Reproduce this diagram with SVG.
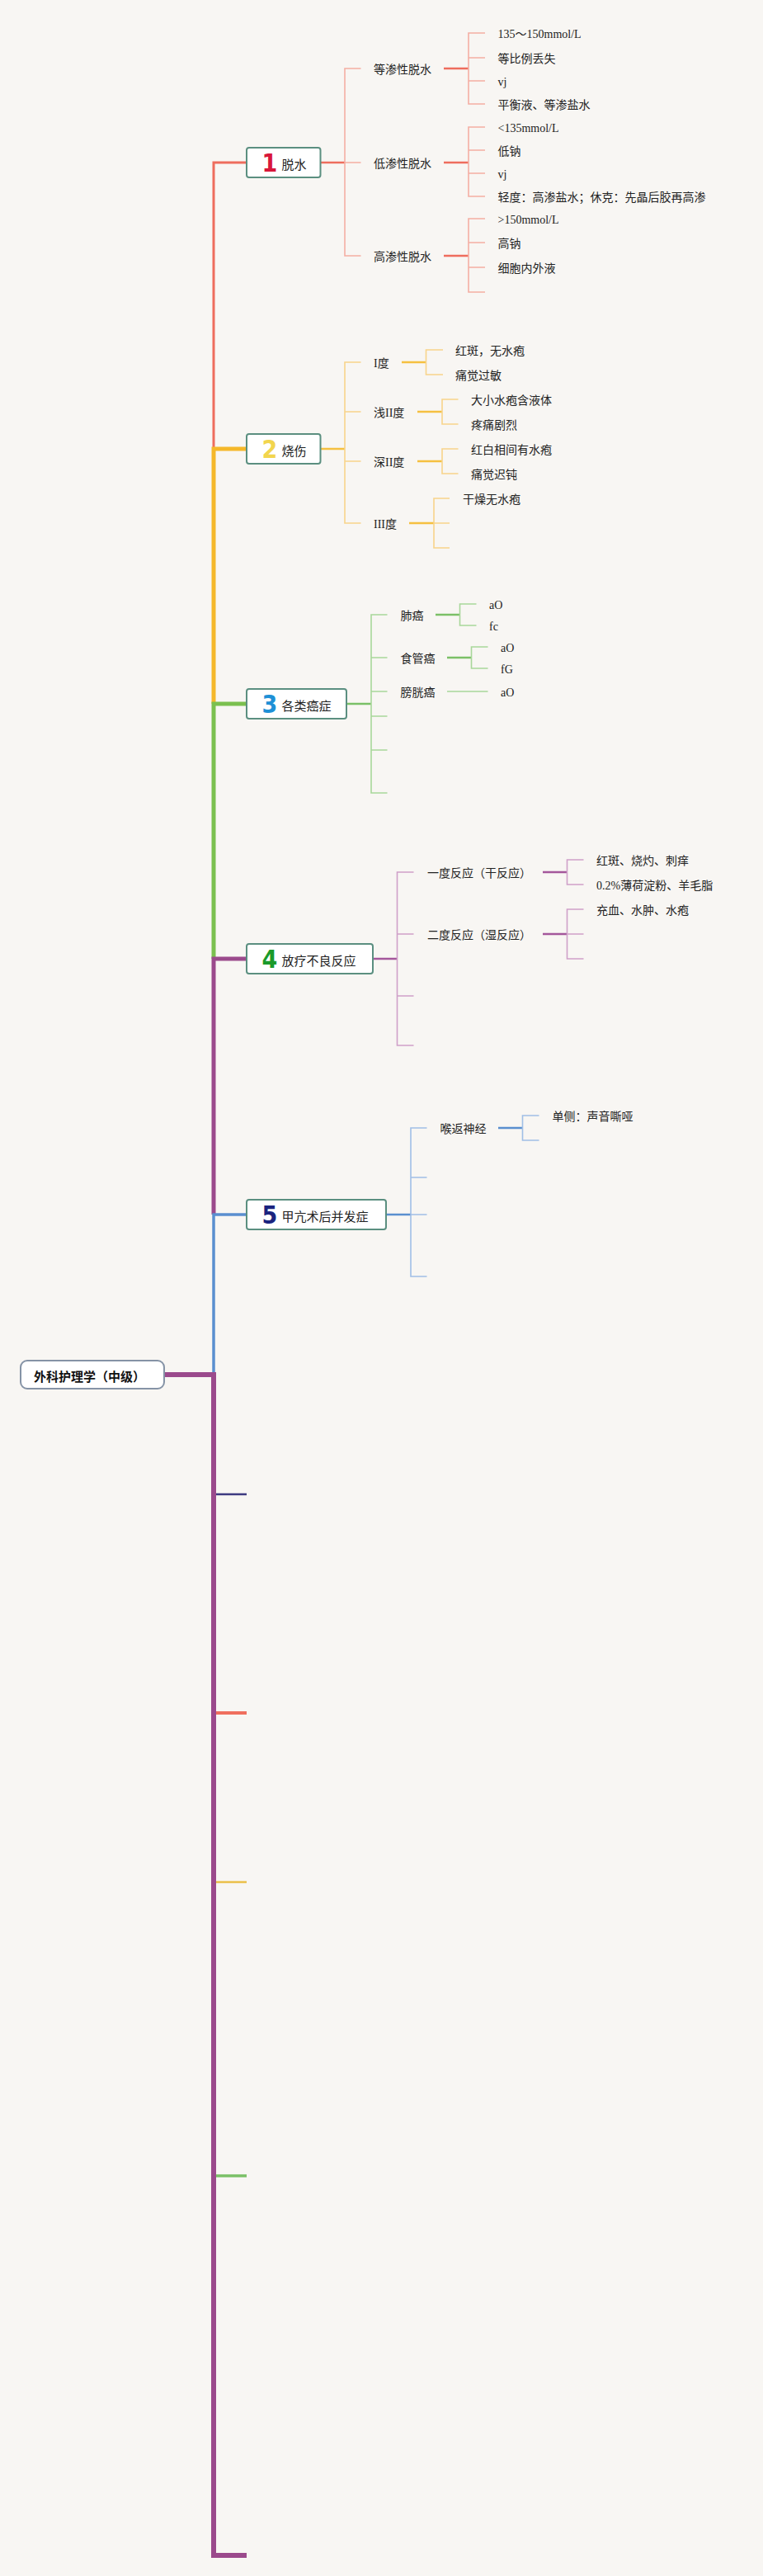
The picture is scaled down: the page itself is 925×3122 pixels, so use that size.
<svg xmlns="http://www.w3.org/2000/svg" width="925" height="3122" viewBox="0 0 925 3122">
<style>
.t{font-family:"Liberation Serif","Noto Sans CJK SC",serif;font-size:14px;fill:#222;dominant-baseline:central}
.m{font-family:"Noto Sans CJK SC",sans-serif;font-size:15px;fill:#222;dominant-baseline:central}
.num{font-family:"DejaVu Sans Condensed","DejaVu Sans","Liberation Sans",sans-serif;font-weight:bold;font-size:30px;text-anchor:middle}
.box{fill:#fff;stroke:#5b8f80;stroke-width:2}
.root{fill:#fff;stroke:#8593a6;stroke-width:2}
.rt{font-family:"Noto Sans CJK SC",sans-serif;font-size:15px;font-weight:bold;fill:#111;dominant-baseline:central}
path,line{fill:none}
.rd{stroke:#ee6d5d;stroke-width:2.5}.rl{stroke:#f4aea3;stroke-width:1.6}
.yd{stroke:#f5c040;stroke-width:2.5}.yl{stroke:#f8d48a;stroke-width:1.6}
.gd{stroke:#7bc067;stroke-width:2.5}.gl{stroke:#a8d79a;stroke-width:1.6}
.pd{stroke:#a4579b;stroke-width:2.5}.pl{stroke:#cfa0c9;stroke-width:1.6}
.bd{stroke:#5a8fcf;stroke-width:2.5}.bl{stroke:#a0bfe6;stroke-width:1.6}
</style>
<rect x="0" y="0" width="925" height="3122" fill="#f8f6f3"/>
<g id="connectors">
  <!-- spine -->
  <path d="M299,197 H259 V544" stroke="#ee6d5d" stroke-width="3"/>
  <path d="M299,544 H259 V853" stroke="#f5b82a" stroke-width="5"/>
  <path d="M299,853 H259 V1162" stroke="#7bc04f" stroke-width="5"/>
  <path d="M299,1162 H259 V1472" stroke="#9b4a8c" stroke-width="5"/>
  <path d="M299,1472 H259 V1666" stroke="#5a8fcf" stroke-width="3.5"/>
  <path d="M199,1666 H259 V3097 H299" stroke="#9b4a8c" stroke-width="6"/>
  <line x1="262" y1="1811" x2="299" y2="1811" stroke="#3d3a80" stroke-width="2.5"/>
  <line x1="262" y1="2076" x2="299" y2="2076" stroke="#ef6f5e" stroke-width="4"/>
  <line x1="262" y1="2281" x2="299" y2="2281" stroke="#ebc04a" stroke-width="2.5"/>
  <line x1="262" y1="2637" x2="299" y2="2637" stroke="#7bc067" stroke-width="3.5"/>
  <!-- section 1 -->
  <path class="rd" d="M388,197 H418"/>
  <path class="rl" d="M437.5,83 H418 V310 H437.5 M418,197 H437.5"/>
  <path class="rd" d="M538,83 H568 M538,197 H568 M538,310 H568"/>
  <path class="rl" d="M588,40 H568 V126 H588 M568,70 H588 M568,98 H588"/>
  <path class="rl" d="M588,154 H568 V238 H588 M568,182 H588 M568,210 H588"/>
  <path class="rl" d="M588,265 H568 V354 H588 M568,294 H588 M568,324 H588"/>
  <!-- section 2 -->
  <path class="yd" d="M388,544 H418"/>
  <path class="yl" d="M437.5,439 H418 V634 H437.5 M418,499 H437.5 M418,559 H437.5"/>
  <path class="yd" d="M487,439 H516.5 M506,499 H536 M506,559 H536 M496,634 H526"/>
  <path class="yl" d="M537,424 H516.5 V454 H537"/>
  <path class="yl" d="M555.5,484 H536 V514 H555.5"/>
  <path class="yl" d="M555.5,544 H536 V574 H555.5"/>
  <path class="yl" d="M545,604 H526 V664 H545 M526,634 H545"/>
  <!-- section 3 -->
  <path class="gd" d="M420,853 H450"/>
  <path class="gl" d="M469.5,745 H450 V961 H469.5 M450,797 H469.5 M450,838 H469.5 M450,868 H469.5 M450,909 H469.5"/>
  <path class="gd" d="M528,745 H557.5 M542,797 H571.5"/>
  <path class="gl" d="M542,838 H591.5"/>
  <path class="gl" d="M577.5,732 H557.5 V758 H577.5"/>
  <path class="gl" d="M591.5,784 H571.5 V810 H591.5"/>
  <!-- section 4 -->
  <path class="pd" d="M452,1162 H481.5"/>
  <path class="pl" d="M501.5,1057 H481.5 V1267 H501.5 M481.5,1132 H501.5 M481.5,1207 H501.5"/>
  <path class="pd" d="M658,1057 H687.5 M658,1132 H687.5"/>
  <path class="pl" d="M707.5,1042 H687.5 V1072 H707.5"/>
  <path class="pl" d="M707.5,1102 H687.5 V1162 H707.5 M687.5,1132 H707.5"/>
  <!-- section 5 -->
  <path class="bd" d="M468,1472 H498"/>
  <path class="bl" d="M517.5,1367 H498 V1547 H517.5 M498,1427 H517.5 M498,1472 H517.5"/>
  <path class="bd" d="M604,1367 H633.5"/>
  <path class="bl" d="M653.5,1352 H633.5 V1382 H653.5"/>
</g>
<g id="root">
  <rect class="root" x="25" y="1649" width="174" height="34" rx="8"/>
  <text class="rt" x="41" y="1667">外科护理学（中级）</text>
</g>
<g id="n1">
  <rect class="box" x="299" y="179" width="89.5" height="36" rx="3"/>
  <text class="num" x="327" y="208" fill="#d8173a">1</text>
  <text class="m" x="341.5" y="198">脱水</text>
</g>
<g id="n1-children">
  <text class="t" x="453" y="84.5">等渗性脱水</text>
  <text class="t" x="453" y="198.5">低渗性脱水</text>
  <text class="t" x="453" y="311.5">高渗性脱水</text>
  <text class="t" x="603.5" y="41.5">135～150mmol/L</text>
  <text class="t" x="603.5" y="71.5">等比例丢失</text>
  <text class="t" x="603.5" y="99.5">vj</text>
  <text class="t" x="603.5" y="127.5">平衡液、等渗盐水</text>
  <text class="t" x="603.5" y="155.5">&lt;135mmol/L</text>
  <text class="t" x="603.5" y="183.5">低钠</text>
  <text class="t" x="603.5" y="211.5">vj</text>
  <text class="t" x="603.5" y="239.5">轻度：高渗盐水；休克：先晶后胶再高渗</text>
  <text class="t" x="603.5" y="266.5">&gt;150mmol/L</text>
  <text class="t" x="603.5" y="295.5">高钠</text>
  <text class="t" x="603.5" y="325.5">细胞内外液</text>
</g>
<g id="n2">
  <rect class="box" x="299" y="526" width="89.5" height="36" rx="3"/>
  <text class="num" x="327" y="555" fill="#f2d54e">2</text>
  <text class="m" x="341.5" y="545">烧伤</text>
</g>
<g id="n2-children">
  <text class="t" x="453" y="440.5">I度</text>
  <text class="t" x="453" y="500.5">浅II度</text>
  <text class="t" x="453" y="560.5">深II度</text>
  <text class="t" x="453" y="635.5">III度</text>
  <text class="t" x="552" y="425.5">红斑，无水疱</text>
  <text class="t" x="552" y="455.5">痛觉过敏</text>
  <text class="t" x="571" y="485.5">大小水疱含液体</text>
  <text class="t" x="571" y="515.5">疼痛剧烈</text>
  <text class="t" x="571" y="545.5">红白相间有水疱</text>
  <text class="t" x="571" y="575.5">痛觉迟钝</text>
  <text class="t" x="561" y="605.5">干燥无水疱</text>
</g>
<g id="n3">
  <rect class="box" x="299" y="835" width="121" height="36" rx="3"/>
  <text class="num" x="327" y="864" fill="#1e90d6">3</text>
  <text class="m" x="341.5" y="854">各类癌症</text>
</g>
<g id="n3-children">
  <text class="t" x="485.5" y="746.5">肺癌</text>
  <text class="t" x="485.5" y="798.5">食管癌</text>
  <text class="t" x="485.5" y="839.5">膀胱癌</text>
  <text class="t" x="593" y="733">aO</text>
  <text class="t" x="593" y="759">fc</text>
  <text class="t" x="607" y="785">aO</text>
  <text class="t" x="607" y="811">fG</text>
  <text class="t" x="607" y="839">aO</text>
</g>
<g id="n4">
  <rect class="box" x="299" y="1144" width="153" height="36" rx="3"/>
  <text class="num" x="327" y="1173" fill="#1a9a2a">4</text>
  <text class="m" x="341.5" y="1163">放疗不良反应</text>
</g>
<g id="n4-children">
  <text class="t" x="518" y="1058.5">一度反应（干反应）</text>
  <text class="t" x="518" y="1133.5">二度反应（湿反应）</text>
  <text class="t" x="723" y="1043.5">红斑、烧灼、刺痒</text>
  <text class="t" x="723" y="1073.5">0.2%薄荷淀粉、羊毛脂</text>
  <text class="t" x="723" y="1103.5">充血、水肿、水疱</text>
</g>
<g id="n5">
  <rect class="box" x="299" y="1454" width="169" height="36" rx="3"/>
  <text class="num" x="327" y="1483" fill="#1a237e">5</text>
  <text class="m" x="341.5" y="1473">甲亢术后并发症</text>
</g>
<g id="n5-children">
  <text class="t" x="533.5" y="1368.5">喉返神经</text>
  <text class="t" x="669.5" y="1353.5">单侧：声音嘶哑</text>
</g>
</svg>
